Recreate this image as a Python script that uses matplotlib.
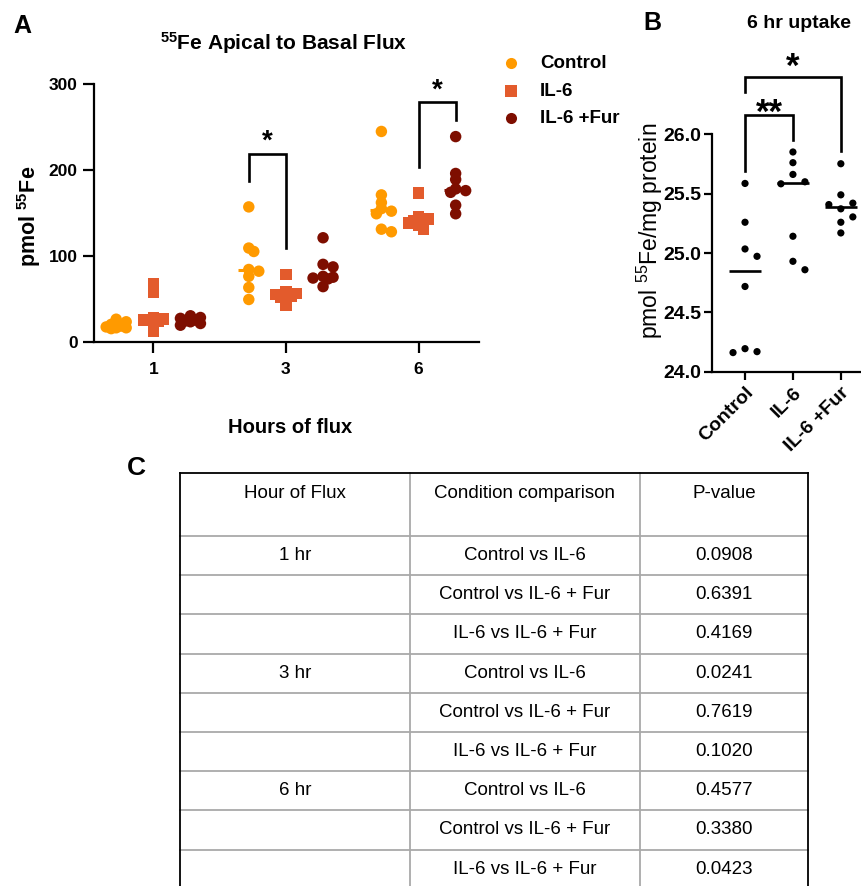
import matplotlib
matplotlib.use("Agg")
import matplotlib.pyplot as plt
import numpy as np
from matplotlib.lines import Line2D

plt.rcParams['font.family'] = ['Liberation Sans', 'DejaVu Sans']
plt.rcParams['mathtext.fontset'] = 'custom'
plt.rcParams['mathtext.rm'] = 'Liberation Sans'
plt.rcParams['mathtext.bf'] = 'Liberation Sans:bold'
plt.rcParams['mathtext.it'] = 'Liberation Sans:italic'

# ---------------- data ----------------
hours = ['1', '3', '6']
conditions = ['Control', 'IL-6', 'IL-6 +Fur']

# Panel A: pmol 55Fe per hour (1, 3, 6 h)
flux_control = [[26, 23, 20, 18, 17, 16, 16, 15],
                [157, 109, 105, 84, 82, 76, 63, 49],
                [245, 171, 162, 155, 152, 149, 131, 128]]
flux_il6 = [[67, 58, 28, 26, 25, 24, 20, 12],
            [78, 58, 56, 55, 53, 52, 50, 42],
            [173, 146, 143, 141, 140, 138, 136, 131]]
flux_fur = [[30, 28, 27, 25, 24, 23, 21, 19],
            [121, 90, 87, 76, 75, 74, 73, 64],
            [239, 196, 189, 178, 176, 174, 159, 149]]

# Panel B: 6 hr uptake, pmol 55Fe/mg protein
uptake_control = [25.586, 25.259, 25.034, 24.972, 24.718, 24.194, 24.169, 24.161]
uptake_il6 = [25.851, 25.761, 25.662, 25.600, 25.583, 25.141, 24.930, 24.859]
uptake_fur = [25.752, 25.490, 25.420, 25.408, 25.372, 25.304, 25.259, 25.169]

# Significance annotations: (hour index, cond a, cond b, label)
sig_A = [(1, 0, 1, '*'), (2, 1, 2, '*')]
sig_B = [(0, 1, '**'), (0, 2, '*')]

# Panel C table
table_header = ['Hour of Flux', 'Condition comparison', 'P-value']
table_hour = ['1 hr', '', '', '3 hr', '', '', '6 hr', '', '']
table_comparison = ['Control vs IL-6', 'Control vs IL-6 + Fur', 'IL-6 vs IL-6 + Fur',
                    'Control vs IL-6', 'Control vs IL-6 + Fur', 'IL-6 vs IL-6 + Fur',
                    'Control vs IL-6', 'Control vs IL-6 + Fur', 'IL-6 vs IL-6 + Fur']
table_pvalue = ['0.0908', '0.6391', '0.4169', '0.0241', '0.7619',
                '0.1020', '0.4577', '0.3380', '0.0423']

# ---------------- style ----------------
colors = ['#FF9A00', '#E35B2C', '#7E0E00']
markers = ['o', 's', 'o']
W, H = 861, 886


def rect(l, t, r, b):
    return [l / W, 1 - b / H, (r - l) / W, (b - t) / H]


def swarm(ypx, min_dist, step, kmax):
    placed, offs = [], []
    cands = [0]
    for k in range(1, kmax + 1):
        cands += [k * step, -k * step]
    for y in ypx:
        best, bestd = 0, -1
        for c in cands:
            d = min([np.hypot(c - ox, y - oy) for ox, oy in placed] + [1e9])
            if d >= min_dist:
                best = c
                break
            if d > bestd:
                best, bestd = c, d
        placed.append((best, y))
        offs.append(best)
    return np.array(offs)


fig = plt.figure(figsize=(W / 100, H / 100), dpi=100)

# ---------------- Panel A ----------------
axA = fig.add_axes(rect(94.3, 84.3, 479, 341.5))
axA.set_xlim(-0.445, 2.456)
axA.set_ylim(0, 300)
for s in ['top', 'right']:
    axA.spines[s].set_visible(False)
for s in ['left', 'bottom']:
    axA.spines[s].set_linewidth(1.6)
axA.set_yticks([0, 100, 200, 300])
axA.set_xticks([0, 1, 2])
axA.set_xticklabels(hours)
axA.tick_params(axis='both', width=1.6, length=8, labelsize=12.5)
axA.tick_params(axis='x', pad=7)
axA.tick_params(axis='y', pad=4)
for lab in axA.get_xticklabels() + axA.get_yticklabels():
    lab.set_fontweight('bold')

cond_offsets = [-0.28, 0.0, 0.28]
pxA_x = (479 - 94.3) / (2.456 + 0.445)
pxA_y = (341.5 - 84.3) / 300.0
groups = [flux_control, flux_il6, flux_fur]
for ci, grp in enumerate(groups):
    for hi, vals in enumerate(grp):
        vals = np.array(vals, dtype=float)
        offs = swarm(vals * pxA_y, 6.0, 5.0, 2) / pxA_x
        xc = hi + cond_offsets[ci]
        med = np.median(vals)
        axA.plot([xc - 0.085, xc + 0.085], [med, med], color=colors[ci], lw=2.2,
                 zorder=2, solid_capstyle='butt')
        axA.scatter(xc + offs, vals, s=68, marker=markers[ci], color=colors[ci],
                    edgecolors='none', zorder=3, clip_on=False)

# significance brackets A (top, left-leg bottom, right-leg bottom, star baseline)
bracketA = [(218.4, 187.6, 108.8, 225.0), (279.8, 203.3, 258.5, 285.0)]
for (hi, a, b, lab), (top, lb, rb, sy) in zip(sig_A, bracketA):
    xa = hi + cond_offsets[a]
    xb = hi + cond_offsets[b]
    axA.plot([xa, xa, xb, xb], [lb, top, top, rb], color='black', lw=1.9,
             clip_on=False, solid_joinstyle='miter', zorder=4)
    axA.text((xa + xb) / 2, sy, lab, ha='center', va='baseline', fontsize=20,
             fontweight='bold', clip_on=False)

# legend
leg_y = [63.3, 91.0, 118.3]
for ci in range(3):
    fig.add_artist(Line2D([511 / W], [1 - leg_y[ci] / H], marker=markers[ci],
                          markersize=8.0, color=colors[ci], linestyle='none',
                          markeredgewidth=0, transform=fig.transFigure))
    fig.text(540 / W, 1 - leg_y[ci] / H, conditions[ci], ha='left', va='center',
             fontsize=13.5, fontweight='bold')

fig.text(284 / W, 1 - 50 / H, r'$^{\mathbf{55}}$Fe Apical to Basal Flux', ha='center',
         va='baseline', fontsize=15, fontweight='bold')
fig.text(290 / W, 1 - 433 / H, 'Hours of flux', ha='center', va='baseline',
         fontsize=14.5, fontweight='bold')
fig.text(29 / W, 1 - 216 / H, r'pmol $^{\mathbf{55}}$Fe', rotation=90, ha='center',
         va='center', fontsize=15.5, fontweight='bold')

# ---------------- Panel B ----------------
axB = fig.add_axes(rect(712.3, 134.3, 860, 371.7))
axB.set_xlim(-0.683, 2.40)
axB.set_ylim(24.0, 26.0)
for s in ['top', 'right']:
    axB.spines[s].set_visible(False)
for s in ['left', 'bottom']:
    axB.spines[s].set_linewidth(1.6)
axB.set_yticks([24.0, 24.5, 25.0, 25.5, 26.0])
axB.set_yticklabels(['%.1f' % v for v in [24.0, 24.5, 25.0, 25.5, 26.0]])
axB.set_xticks([0, 1, 2])
axB.set_xticklabels(conditions, rotation=45, ha='right', rotation_mode='anchor')
axB.tick_params(axis='both', width=1.6, length=6, labelsize=14)
axB.tick_params(axis='y', pad=2)
axB.tick_params(axis='x', pad=3)
for lab in axB.get_xticklabels() + axB.get_yticklabels():
    lab.set_fontweight('bold')

pxB_x = (860 - 712.3) / (2.40 + 0.683)
pxB_y = (371.7 - 134.3) / 2.0
for ci, vals in enumerate([uptake_control, uptake_il6, uptake_fur]):
    vals = np.array(vals)
    offs = swarm(vals * pxB_y, 10.0, 12.0, 2) / pxB_x
    axB.scatter(ci + offs, vals, s=27, color='black', edgecolors='none', zorder=3,
                clip_on=False)
    med = np.median(vals)
    axB.plot([ci - 0.33, ci + 0.33], [med, med], color='black', lw=1.9, zorder=2,
             solid_capstyle='butt')

bracketB = [(26.163, 25.693, 25.956, 26.10), (26.48, 26.36, 25.86, 26.485)]
for (a, b, lab), (top, lb, rb, sy) in zip(sig_B, bracketB):
    axB.plot([a, a, b, b], [lb, top, top, rb], color='black', lw=1.9,
             clip_on=False, solid_joinstyle='miter')
    axB.text((a + b) / 2, sy, lab, ha='center', va='baseline', fontsize=25,
             fontweight='bold', clip_on=False)

fig.text(799 / W, 1 - 28 / H, '6 hr uptake', ha='center', va='baseline',
         fontsize=14, fontweight='bold')
fig.text(650 / W, 1 - 231 / H, r'pmol $^{55}$Fe/mg protein', rotation=90,
         ha='center', va='center', fontsize=16.5)

# ---------------- Panel C (table) ----------------
axT = fig.add_axes(rect(180, 473.3, 808.3, 886))
tw, th = 628.3, 412.7
axT.set_xlim(0, tw)
axT.set_ylim(th, 0)
axT.axis('off')
col_edges = [0, 230, 460, tw]
head_h, row_h = 62.7, 39.2
grey = '#A9A9A9'
nrows = len(table_pvalue)
for k in range(nrows):
    y = head_h + k * row_h
    axT.plot([0, tw], [y, y], color=grey, lw=1.3, clip_on=False)
for xe in col_edges[1:-1]:
    axT.plot([xe, xe], [0, th], color=grey, lw=1.3, clip_on=False)
axT.plot([0, 0], [th, 0], color='black', lw=1.3, clip_on=False, zorder=5)
axT.plot([0, tw], [0, 0], color='black', lw=1.3, clip_on=False, zorder=5)
axT.plot([tw, tw], [0, th], color='black', lw=1.3, clip_on=False, zorder=5)

col_centers = [(col_edges[i] + col_edges[i + 1]) / 2 for i in range(3)]
for i, txt in enumerate(table_header):
    axT.text(col_centers[i], 20.5, txt, ha='center', va='center', fontsize=13.5)
for r in range(nrows):
    yc = head_h + (r + 0.5) * row_h
    for i, txt in enumerate([table_hour[r], table_comparison[r], table_pvalue[r]]):
        axT.text(col_centers[i], yc, txt, ha='center', va='center', fontsize=13.5)

# panel letters
fig.text(13 / W, 1 - 33 / H, 'A', ha='left', va='baseline', fontsize=18, fontweight='bold')
fig.text(643 / W, 1 - 30 / H, 'B', ha='left', va='baseline', fontsize=18, fontweight='bold')
fig.text(127 / W, 1 - 475 / H, 'C', ha='left', va='baseline', fontsize=19, fontweight='bold')

fig.savefig('out.png', dpi=100)
